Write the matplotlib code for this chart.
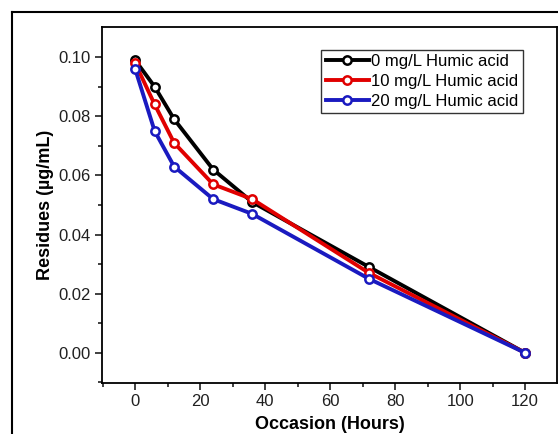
import matplotlib
matplotlib.use('Agg')
import matplotlib.pyplot as plt
from matplotlib.lines import Line2D

plt.rcParams['font.family'] = ['Liberation Sans', 'DejaVu Sans']

# sampling times (hours)
hours = [0, 6, 12, 24, 36, 72, 120]

# residues (ug/mL) for each humic acid level
res_0 = [0.099, 0.090, 0.079, 0.062, 0.051, 0.029, 0.000]
res_10 = [0.098, 0.084, 0.071, 0.057, 0.052, 0.027, 0.000]
res_20 = [0.096, 0.075, 0.063, 0.052, 0.047, 0.025, 0.000]

labels = ['0 mg/L Humic acid', '10 mg/L Humic acid', '20 mg/L Humic acid']
colors = ['black', '#e00000', '#1a1ac0']

fig = plt.figure(figsize=(5.58, 4.34), dpi=100)
ax = fig.add_axes([102 / 558, 1 - 383 / 434, 455 / 558, 356 / 434])

for y, lab, c in zip([res_0, res_10, res_20], labels, colors):
    ax.plot(hours, y, color=c, lw=2.8, marker='o', ms=6,
            mfc='white', mec=c, mew=1.8, label=lab)

ax.set_xlim(-10.2, 129.8)
ax.set_ylim(-0.0102, 0.1102)
ax.set_xticks([0, 20, 40, 60, 80, 100, 120])
ax.set_xticks([-10, 10, 30, 50, 70, 90, 110], minor=True)
ax.set_yticks([0.00, 0.02, 0.04, 0.06, 0.08, 0.10])
ax.set_yticks([-0.01, 0.01, 0.03, 0.05, 0.07, 0.09], minor=True)
ax.yaxis.set_major_formatter(matplotlib.ticker.FormatStrFormatter('%.2f'))
ax.tick_params(which='major', direction='out', length=5, width=1.2,
               labelsize=12, colors='#202020', pad=3)
ax.tick_params(which='minor', direction='out', length=3, width=1.2, colors='#202020')
ax.tick_params(top=False, right=False)
for s in ax.spines.values():
    s.set_linewidth(1.3)

ax.set_xlabel('Occasion (Hours)', fontsize=13, fontweight='bold', labelpad=5)
ax.set_ylabel('Residues (µg/mL)', fontsize=13, fontweight='bold', labelpad=3)

leg = ax.legend(loc='upper right', bbox_to_anchor=(0.925, 0.935), fontsize=12,
                frameon=True, fancybox=False, handlelength=2.6,
                handletextpad=0.15, borderpad=0.25, labelspacing=0.28,
                borderaxespad=0)
leg.get_frame().set_edgecolor('black')
leg.get_frame().set_linewidth(1.0)

# outer frame of the figure panel
fig.add_artist(Line2D([12 / 558, 12 / 558], [0, 1 - 12 / 434], color='black', lw=1.5,
                      transform=fig.transFigure))
fig.add_artist(Line2D([12 / 558, 1], [1 - 12 / 434, 1 - 12 / 434], color='black', lw=1.5,
                      transform=fig.transFigure))

fig.savefig('out.png', dpi=100)
